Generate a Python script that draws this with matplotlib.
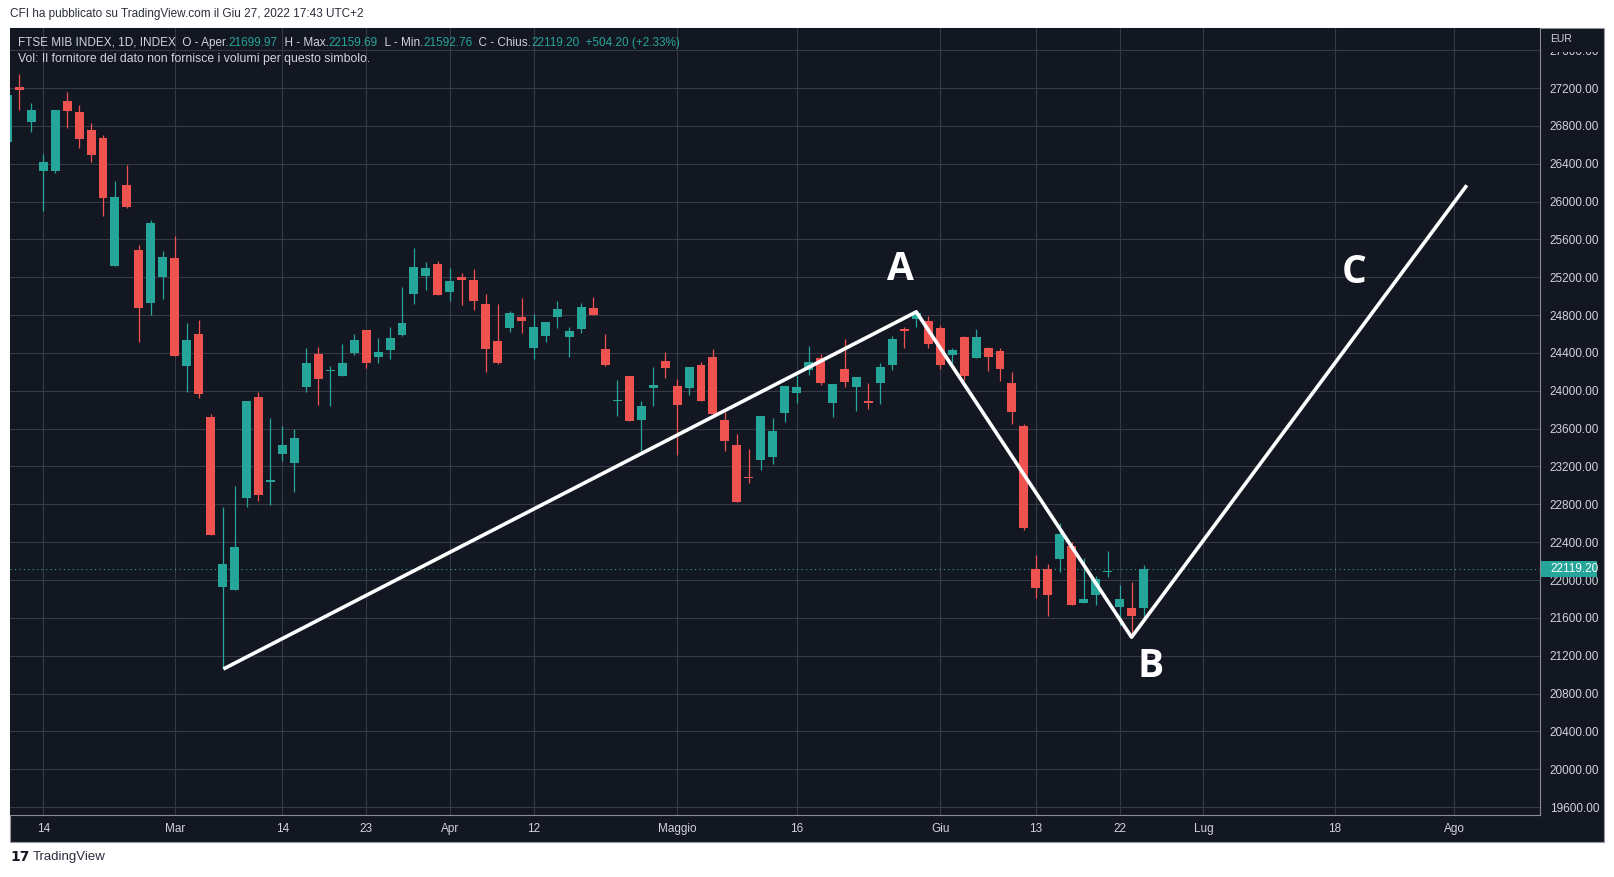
import numpy as np
import matplotlib
matplotlib.use('Agg')
import matplotlib.pyplot as plt
from matplotlib.patches import Rectangle
import matplotlib.transforms as mtransforms

# ---- data ----
# bar index 0 = first labelled day ("14" Feb); negatives are the bars on the left edge
bar_idx = np.arange(-3, 93)
opens = [26634, 27210, 26844,
         26327, 26327, 27063, 26945, 26756, 26671, 25321, 26174, 25491, 24932, 25204,
         25406, 24267, 24602, 23725, 21923, 21891, 22865, 23935, 23040,
         23329, 23232, 24036, 24392, 24210, 24158, 24400, 24646, 24352, 24436,
         24589, 25023, 25213, 25339, 25044, 25202, 25170, 24917, 24526, 24663,
         24780, 24452, 24579, 24780, 24568, 24653, 24875, 24442, 23890, 24156,
         23692, 24033, 24315, 24051, 24030, 24273, 24357, 23692, 23428, 23090,
         23269, 23301, 23766, 23977, 24223, 24346, 23870, 24230, 24039, 23885,
         24082, 24272, 24650, 24758, 24737, 24663, 24377, 24568, 24346, 24451,
         24420, 24082, 23630, 22118, 22118, 22217, 22361, 21752, 21847, 22085,
         21720, 21706, 21699.97]
highs = [27180, 27349, 27042,
         26500, 26966, 27160, 27022, 26828, 26703, 26218, 26388, 25544, 25806, 25479,
         25637, 24719, 24752, 23758, 22776, 22998, 23895, 23992, 23717,
         23632, 23600, 24453, 24465, 24263, 24497, 24602, 24646, 24562, 24675,
         25097, 25508, 25361, 25371, 25297, 25244, 25287, 25023, 24917, 24843,
         24980, 24811, 24727, 24949, 24674, 24927, 24991, 24600, 24114, 24156,
         23892, 24251, 24410, 24125, 24251, 24304, 24442, 23776, 23544, 23385,
         23734, 23713, 24051, 24167, 24473, 24388, 24071, 24546, 24145, 24082,
         24293, 24578, 24673, 24850, 24789, 24694, 24451, 24578, 24652, 24462,
         24451, 24198, 23650, 22266, 22171, 22605, 22404, 22235, 22044, 22309,
         21949, 21981, 22159.69]
lows = [26600, 26970, 26735,
        25895, 26307, 26780, 26566, 26420, 25846, 25321, 25927, 24517, 24804, 24966,
        24364, 23984, 23919, 22473, 21060, 21891, 22776, 22840, 22792,
        23257, 22933, 23984, 23855, 23834, 24158, 24380, 24238, 24291, 24339,
        24579, 24920, 25068, 25012, 24949, 24906, 24854, 24199, 24283, 24621,
        24611, 24336, 24516, 24663, 24357, 24611, 24801, 24262, 23734, 23681,
        23364, 23840, 24135, 23322, 23956, 23892, 23755, 23364, 22825, 23030,
        23163, 23227, 23670, 23871, 24166, 24061, 23723, 24039, 23786, 23807,
        23860, 24219, 24451, 24673, 24451, 24230, 24293, 24113, 24346, 24208,
        24103, 23649, 22530, 21815, 21625, 22090, 21731, 21752, 21741, 22037,
        21526, 21420, 21592.76]
closes = [27127, 27180, 26966,
          26420, 26966, 26962, 26663, 26493, 26036, 26048, 25943, 24877, 25774, 25414,
          24364, 24537, 23964, 22473, 22174, 22352, 23895, 22897, 23050,
          23430, 23503, 24295, 24121, 24225, 24295, 24537, 24295, 24412, 24562,
          24716, 25308, 25297, 25012, 25160, 25170, 24949, 24442, 24294, 24822,
          24737, 24674, 24727, 24864, 24632, 24885, 24801, 24273, 23905, 23681,
          23840, 24061, 24241, 23850, 24251, 23892, 23755, 23470, 22825, 23075,
          23734, 23575, 24051, 24040, 24304, 24082, 24071, 24092, 24145, 23875,
          24251, 24546, 24635, 24818, 24494, 24272, 24430, 24156, 24568, 24356,
          24230, 23775, 22545, 21921, 21847, 22488, 21731, 21801, 22013, 22095,
          21801, 21615.00, 22119.20]

tick_idx = [0, 11, 20, 27, 34, 41, 53, 63, 75, 83, 90, 97, 108, 118]
tick_labels = ['14', 'Mar', '14', '23', 'Apr', '12', 'Maggio', '16', 'Giu', '13', '22', 'Lug', '18', 'Ago']
price_ticks = np.arange(19600, 27601, 400)

# hand-drawn A-B-C path and its letters
abc_x = [15.07, 73, 91, 119.03]
abc_y = [21060, 24834, 21396, 26172]
abc_labels = ['A', 'B', 'C']
abc_label_x = [71.7, 92.6, 109.65]
abc_label_y = [25280, 21081, 25247]

# ---- style ----
BG = '#131722'
GRID = '#363a45'
UP = '#26a69a'
DOWN = '#ef5350'
TXT = '#d1d4dc'
FONT = ['Liberation Sans', 'DejaVu Sans']

W, H = 1614, 877
fig = plt.figure(figsize=(W / 100, H / 100), dpi=100, facecolor='white')

# panel background incl. price and time strips (behind the axes)
panel = Rectangle((10 / W, 1 - 841.7 / H), 1593.5 / W, (841.7 - 28.3) / H,
                  transform=fig.transFigure, facecolor=BG, edgecolor='#9598a1', lw=0.8, zorder=-5)
fig.add_artist(panel)

ax = fig.add_axes([10 / W, 1 - 814.5 / H, 1530 / W, (814.5 - 28.3) / H])
ax.set_facecolor(BG)
ax.set_xlim(-2.776, 125.15)
ax.set_ylim(19522, 27831)

# candles
o = np.array(opens); h = np.array(highs); l = np.array(lows); c = np.array(closes)
cols = np.where(c >= o, UP, DOWN)
ax.vlines(bar_idx, l, h, colors=cols, lw=0.9, zorder=3)
body_h = np.maximum(np.abs(c - o), 12)
ax.bar(bar_idx, body_h, bottom=np.minimum(o, c), width=0.75, color=cols, zorder=3)

# last price line
last_close = closes[-1]
ax.axhline(last_close, color=UP, ls=(0, (1, 3)), lw=0.8, zorder=2)

# A-B-C drawing
ax.plot(abc_x, abc_y, color='white', lw=2.6, zorder=4, solid_capstyle='butt')
for lab, lx, ly in zip(abc_labels, abc_label_x, abc_label_y):
    ax.text(lx, ly, lab, color='white', fontsize=28, fontweight='bold',
            family=['Open Sans', 'DejaVu Sans'], ha='center', va='center', zorder=5)

# grid + axes
ax.set_xticks(tick_idx)
ax.set_xticklabels(tick_labels)
ax.set_yticks(price_ticks)
ax.set_yticklabels([f'{p:.2f}' for p in price_ticks])
ax.yaxis.tick_right()
ax.grid(True, color=GRID, lw=0.8)
ax.set_axisbelow(True)
ax.tick_params(axis='both', length=0, colors=TXT, labelsize=8.5)
ax.tick_params(axis='x', pad=6)
ax.tick_params(axis='y', pad=7)
for lbl in ax.get_xticklabels() + ax.get_yticklabels():
    lbl.set_family(FONT)
for s in ['top', 'left']:
    ax.spines[s].set_visible(False)
for s in ['right', 'bottom']:
    ax.spines[s].set_color('#8a8d96')
    ax.spines[s].set_linewidth(0.8)

# last price tag on the price scale
blend = mtransforms.blended_transform_factory(ax.transAxes, ax.transData)
ax.add_patch(Rectangle((1.0005, last_close - 85), 0.037, 170, transform=blend,
                       facecolor=UP, edgecolor='none', clip_on=False, zorder=6))
ax.text(1.0065, last_close, f'{last_close:.2f}', transform=blend, color='white',
        fontsize=8.5, family=FONT, va='center', ha='left', zorder=7, clip_on=False)

# EUR header on price scale (covers most of the top label)
mask = Rectangle((1541 / W, 1 - 51.5 / H), 62 / W, 23 / H, transform=fig.transFigure,
                 facecolor=BG, edgecolor='none', zorder=9)
fig.add_artist(mask)
fig.text(1550 / W, 1 - 39 / H, 'EUR', color=TXT, fontsize=7.5, family=FONT, va='center', zorder=10)

# top caption
fig.text(10 / W, 1 - 14.5 / H, 'CFI ha pubblicato su TradingView.com il Giu 27, 2022 17:43 UTC+2',
         color='#2a2e39', fontsize=8.5, family=FONT, va='center')

# legend line with OHLC
renderer = fig.canvas.get_renderer()
chg = closes[-1] - closes[-2]
segments = [('FTSE MIB INDEX, 1D, INDEX  O - Aper.', TXT), (f'{opens[-1]:.2f}', UP),
            ('  H - Max.', TXT), (f'{highs[-1]:.2f}', UP),
            ('  L - Min.', TXT), (f'{lows[-1]:.2f}', UP),
            ('  C - Chius.', TXT), (f'{closes[-1]:.2f}', UP),
            (f'  +{chg:.2f} (+{chg / closes[-2] * 100:.2f}%)', UP)]
x0 = 18.0
for s, col in segments:
    t = fig.text(x0 / W, 1 - 42.7 / H, s, color=col, fontsize=8.5, family=FONT, va='center', zorder=10)
    x0 = t.get_window_extent(renderer).x1
fig.text(18 / W, 1 - 59.3 / H, 'Vol: Il fornitore del dato non fornisce i volumi per questo simbolo.',
         color=TXT, fontsize=8.8, family=FONT, va='center', zorder=10)

# footer logo
fig.text(10 / W, 1 - 857 / H, '17', color='#131722', fontsize=10, fontweight='bold',
         family='DejaVu Sans', va='center')
fig.text(33 / W, 1 - 857 / H, 'TradingView', color='#2a2e39', fontsize=9.5, family=FONT, va='center')

fig.savefig('out.png', dpi=100, facecolor='white')
